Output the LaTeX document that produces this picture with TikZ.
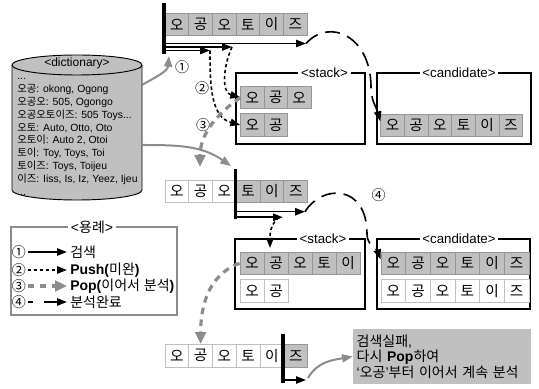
\documentclass[tikz,border=0pt]{standalone}
\usepackage{fontspec}
\setmainfont{Liberation Sans}
\newfontfamily\krfont{Noto Sans CJK KR}
% Hangul and circled digits are set in the Korean font
\XeTeXinterchartokenstate=1
\newXeTeXintercharclass\hangulclass
\newcount\hgcode
\hgcode="AC00
\loop\ifnum\hgcode<"D7A4
  \XeTeXcharclass\hgcode=\hangulclass
  \advance\hgcode by 1
\repeat
\hgcode="2460
\loop\ifnum\hgcode<"2474
  \XeTeXcharclass\hgcode=\hangulclass
  \advance\hgcode by 1
\repeat
\XeTeXcharclass"2018=0
\XeTeXcharclass"2019=0
\XeTeXinterchartoks 0 \hangulclass={\begingroup\krfont}
\XeTeXinterchartoks 4095 \hangulclass={\begingroup\krfont}
\XeTeXinterchartoks \hangulclass 0={\endgroup}
\XeTeXinterchartoks \hangulclass 4095={\endgroup}
\usetikzlibrary{arrows.meta}
\definecolor{cellgray}{RGB}{192,192,192}
\definecolor{arrowgray}{RGB}{140,140,140}
\definecolor{edgegray}{RGB}{150,150,150}
\tikzstyle{cell}=[draw=edgegray, line width=0.6pt, minimum width=17.8pt, minimum height=17pt, inner sep=0pt, font=\fontsize{11}{12}\selectfont]
\tikzstyle{graycell}=[cell, fill=cellgray]
\tikzstyle{whitecell}=[cell, fill=white, draw=edgegray!60]
\tikzstyle{frame}=[draw, line width=0.8pt, inner sep=0pt]
\tikzstyle{frametitle}=[fill=white, inner sep=2pt, font=\fontsize{10}{11}\selectfont]
\tikzstyle{cursor}=[draw, line width=2.6pt]
\tikzstyle{search}=[draw, line width=1.2pt, -{Triangle[length=7.5pt,width=5.5pt]}]
\tikzstyle{push}=[search, dash pattern=on 2.5pt off 2pt]
\tikzstyle{pop}=[draw=arrowgray, line width=2.4pt, dash pattern=on 5pt off 4pt, -{Triangle[length=9pt,width=8pt]}]
\tikzstyle{done}=[search, dash pattern=on 11pt off 6pt]
\tikzstyle{feed}=[draw=arrowgray, line width=1.5pt, -{Triangle[length=8pt,width=6pt]}]
\tikzstyle{numlabel}=[inner sep=1pt, font=\fontsize{10.5}{11}\selectfont]
\tikzstyle{dictline}=[anchor=base west, inner sep=0pt, font=\fontsize{7.8}{9}\selectfont]
\tikzstyle{legtext}=[anchor=west, inner sep=0pt, font=\fontsize{10.5}{12}\selectfont]
\tikzstyle{msgbox}=[fill=cellgray, minimum width=133.5pt, minimum height=41.25pt, text width=128pt, align=left, inner sep=2pt, font=\fontsize{10.5}{11.6}\selectfont]

\begin{document}
\begin{tikzpicture}[x=0.75pt, y=0.75pt]
    \useasboundingbox (0,0) rectangle (539,389);
    % The dictionary
    \filldraw[fill=cellgray, line width=0.7pt] (12,324) -- (12,199)
        arc[start angle=180, end angle=360, x radius=48.75pt, y radius=7.5pt] -- (142,324)
        arc[start angle=0, end angle=180, x radius=48.75pt, y radius=7.5pt] -- cycle;
    \draw[line width=0.7pt] (12,324) arc[start angle=180, end angle=360, x radius=48.75pt, y radius=7.5pt];
    \node[frametitle, fill=none, font=\fontsize{9}{10}\selectfont] (dicttitle) at (77,325.5) {<dictionary>};
    \foreach \k/\txt in {0/{...}, 1/{오공: okong, Ogong}, 2/{오공오: 505, Ogongo},
                         3/{오공오토이즈: 505 Toys...}, 4/{오토: Auto, Otto, Oto},
                         5/{오토이: Auto 2, Otoi}, 6/{토이: Toy, Toys, Toi},
                         7/{토이즈: Toys, Toijeu}, 8/{이즈: Iiss, Is, Iz, Yeez, Ijeu}, 9/{...}}
        \node[dictline] (d\k) at (17, 309.4-12.86*\k) {\txt};
    \coordinate (dictA) at (142,304);
    \coordinate (dictB) at (142,244);

    % First pass over the word
    \foreach \i/\ch in {0/오,1/공,2/오,3/토,4/이,5/즈}
        \node[graycell] (a\i) at (176.85+23.7*\i, 364.5) {\ch};
    \coordinate (c1a) at (164,386);
    \coordinate (c1b) at (164,335);
    \draw[cursor] (c1a) -- (c1b);
    \foreach \n/\y/\x in {1/345.5/306, 2/342/232, 3/338.5/210} {
        \coordinate (r\n) at (164,\y);
        \coordinate (re\n) at (\x,\y);
        \path[search] (r\n) -- (re\n);
    }
    \coordinate (fa) at (169,333);
    \path[feed] (dictA) to[out=30, in=-95] (fa);

    % stack and candidate after the first pass
    \node[frame, minimum width=96.75pt, minimum height=53.25pt] (stack1) at (300.5,280.5) {};
    \node[frametitle] at (324.5,316) {<stack>};
    \node[frame, minimum width=115.5pt, minimum height=53.25pt] (cand1) at (454,280.5) {};
    \node[frametitle] at (459,316) {<candidate>};
    \foreach \i/\ch in {0/오,1/공,2/오}
        \node[graycell, minimum width=17.55pt] (s\i) at (252.4+23.4*\i, 291.5) {\ch};
    \foreach \i/\ch in {0/오,1/공}
        \node[graycell, minimum width=17.55pt] (t\i) at (252.4+23.4*\i, 264) {\ch};
    \foreach \i/\ch in {0/오,1/공,2/오,3/토,4/이,5/즈}
        \node[graycell] (k\i) at (392.55+23.67*\i, 263.7) {\ch};
    \path[push] (re3) to[out=-90, in=165] (t0.west);
    \path[push] (re2) to[out=-115, in=165] (s0.west);
    \coordinate (bendA) at (371,302);
    \path[done] (re1) .. controls (330,372) and (371,352) .. (bendA)
        to[out=-90, in=105] ([yshift=3pt]k0.west);
    \node[numlabel] (lab1) at (182,322) {①};
    \node[numlabel] (lab2) at (202,301) {②};
    \node[numlabel] (lab3) at (203,264) {③};

    % Second pass, resumed after the pop
    \foreach \i/\ch/\sty in {0/오/whitecell,1/공/whitecell,2/오/whitecell,3/토/graycell,4/이/graycell,5/즈/graycell}
        \node[\sty] (m\i) at (176.85+23.78*\i, 197.7) {\ch};
    \coordinate (fb) at (231,223);
    \path[feed] (dictB) to[out=0, in=145] (fb);
    \coordinate (pa) at (200,222);
    \path[pop] (s0.west) to[out=215, in=90] (pa);
    \coordinate (c2a) at (235.5,220);
    \coordinate (c2b) at (235.5,170);
    \draw[cursor] (c2a) -- (c2b);
    \foreach \n/\y/\x in {4/177.3/305, 5/171.7/283} {
        \coordinate (r\n) at (235.5,\y);
        \coordinate (re\n) at (\x,\y);
        \path[search] (r\n) -- (re\n);
    }

    % stack and candidate after the second pass
    \node[frame, minimum width=97.5pt, minimum height=52.5pt] (stack2) at (300,115) {};
    \node[frametitle] at (323,150) {<stack>};
    \node[frame, minimum width=114.75pt, minimum height=52.5pt] (cand2) at (453.5,115) {};
    \node[frametitle] at (459,150) {<candidate>};
    \foreach \i/\ch in {0/오,1/공,2/오,3/토,4/이}
        \node[graycell, minimum width=18pt] (u\i) at (252+24*\i, 125.7) {\ch};
    \foreach \i/\ch in {0/오,1/공}
        \node[whitecell, minimum width=18pt] (v\i) at (252+24*\i, 98) {\ch};
    \foreach \i/\ch in {0/오,1/공,2/오,3/토,4/이,5/즈} {
        \node[graycell, minimum width=18.5pt] (p\i) at (393.33+24.67*\i, 125.7) {\ch};
        \node[whitecell, minimum width=18.5pt] (q\i) at (393.33+24.67*\i, 98) {\ch};
    }
    \coordinate (pb) at (270,141);
    \path[push] ([xshift=-3pt]re5) to[out=220, in=90] (pb);
    \coordinate (bendB) at (367,155);
    \path[done] (re4) .. controls (322,205) and (367,205) .. (bendB)
        to[out=-90, in=110] ([yshift=3pt]p0.west);
    \node[numlabel] (lab4) at (378.5,194) {④};

    % Third pass: search fails
    \foreach \i/\ch/\sty in {0/오/whitecell,1/공/whitecell,2/오/whitecell,3/토/whitecell,4/이/whitecell,5/즈/graycell}
        \node[\sty] (b\i) at (176.85+23.78*\i, 33.2) {\ch};
    \path[pop] (u0.west) to[out=200, in=90] (b1.north);
    \coordinate (c3a) at (283,55);
    \coordinate (c3b) at (283,6);
    \draw[cursor] (c3a) -- (c3b);
    \coordinate (r6) at (283,9);
    \coordinate (re6) at (306,9);
    \path[search] (r6) -- (re6);
    \node[msgbox] (msg) at (442,32.5) {검색실패,\\다시 \textbf{Pop}하여\\‘오공’부터 이어서 계속 분석};
    \coordinate (fc) at (308,11);
    \path[feed] (fc) to[out=60, in=190] (msg.west);

    % Legend
    \node[frame, draw=arrowgray, line width=1.5pt, minimum width=124.5pt, minimum height=66pt] (legend) at (94,118) {};
    \node[frametitle, font=\fontsize{10.5}{12}\selectfont] at (92,162) {<용례>};
    \foreach \k/\y/\num in {1/137/①, 2/119/②, 3/103/③, 4/87/④} {
        \node[numlabel] (n\k) at (19,\y) {\num};
        \coordinate (e\k) at (67,\y);
    }
    \path[search] (n1) -- (e1);
    \path[push] (n2) -- (e2);
    \path[pop] (n3) -- (e3);
    \path[done, dash pattern=on 4pt off 8pt on 20pt off 8pt] (n4) -- (e4);
    \node[legtext] (w1) at (70,137) {검색};
    \node[legtext] (w2) at (70,119) {\textbf{Push(}미완\textbf{)}};
    \node[legtext] (w3) at (70,103) {\textbf{Pop(}이어서 분석\textbf{)}};
    \node[legtext] (w4) at (70,87) {분석완료};
\end{tikzpicture}
\end{document}
